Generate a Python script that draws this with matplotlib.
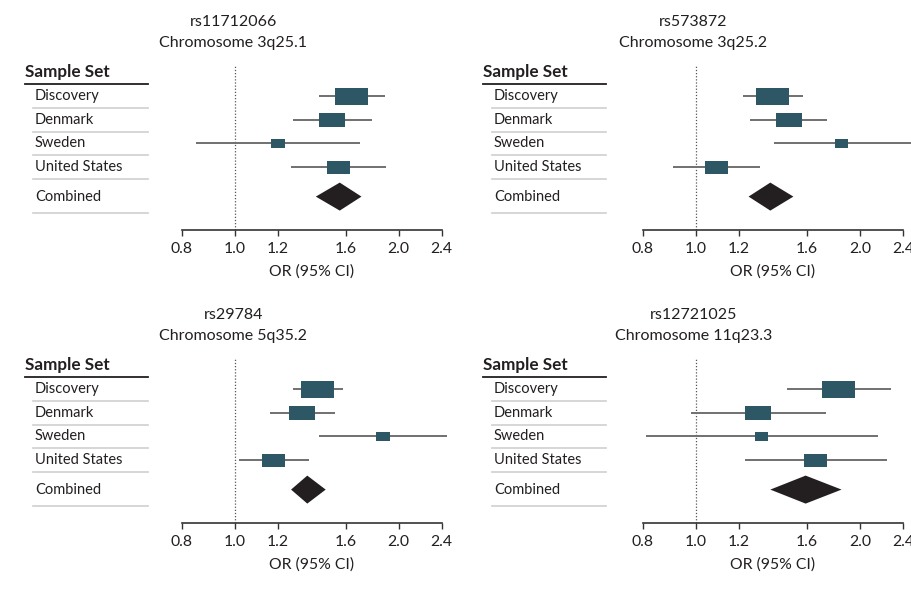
import numpy as np
import matplotlib
matplotlib.use("Agg")
import matplotlib.pyplot as plt
import matplotlib.transforms as mtransforms

plt.rcParams['font.family'] = ['Lato', 'DejaVu Sans']

# data
sample_sets = ["Discovery", "Denmark", "Sweden", "United States"]
weights = [1.0, 0.79, 0.42, 0.70]  # relative study weight (box size)
snps = ["rs11712066", "rs573872", "rs29784", "rs12721025"]
loci = ["Chromosome 3q25.1", "Chromosome 3q25.2", "Chromosome 5q35.2", "Chromosome 11q23.3"]

or_vals = [[1.64, 1.51, 1.20, 1.55],
           [1.38, 1.48, 1.85, 1.09],
           [1.42, 1.33, 1.87, 1.18],
           [1.83, 1.30, 1.32, 1.66]]
ci_low = [[1.43, 1.28, 0.85, 1.27],
          [1.22, 1.26, 1.39, 0.91],
          [1.28, 1.16, 1.43, 1.02],
          [1.47, 0.98, 0.81, 1.23]]
ci_high = [[1.89, 1.79, 1.70, 1.90],
           [1.57, 1.74, 2.55, 1.31],
           [1.58, 1.53, 2.45, 1.37],
           [2.28, 1.73, 2.16, 2.24]]
comb_or = [1.56, 1.37, 1.36, 1.59]
comb_low = [1.41, 1.25, 1.27, 1.37]
comb_high = [1.71, 1.51, 1.47, 1.85]

xticks = [0.8, 1.0, 1.2, 1.6, 2.0, 2.4]

W, H = 911, 592
BOX_C = '#2d5764'
LINE_C = '#707070'
DIAM_C = '#231f20'
SEP_C = '#cfcfcf'
DARK = '#231f20'

fig = plt.figure(figsize=(W / 100, H / 100), dpi=100)

# panel layout in pixels: (axes left, axes right, row0 y, header x, label x, sep left, sep right)
panels = [(181.7, 441.7, 96, 25, 35, 33, 148),
          (642.7, 903.3, 96, 483, 494, 492, 606),
          (181.7, 441.7, 389, 25, 35, 33, 148),
          (642.7, 903.3, 389, 483, 494, 492, 606)]

pitch = 23.67
y_top, y_bot = -1.31, 5.66
comb_y = 4.25
rows = np.arange(len(sample_sets))

for i, (xl, xr, y0, hx, lx, sx0, sx1) in enumerate(panels):
    top_px = y0 + y_top * pitch
    bot_px = y0 + y_bot * pitch
    ax = fig.add_axes([xl / W, 1 - bot_px / H, (xr - xl) / W, (bot_px - top_px) / H])
    ax.set_xscale('log')
    ax.set_xlim(0.8, 2.4)
    ax.set_ylim(y_bot, y_top)
    k = (xr - xl) / np.log(2.4 / 0.8)  # pixels per ln unit

    # reference line at OR = 1
    ax.axvline(1.0, color='#555555', lw=0.9, ls=(0, (1, 1.5)), zorder=1)

    for r in rows:
        ax.plot([ci_low[i][r], ci_high[i][r]], [r, r], color=LINE_C, lw=1.4,
                clip_on=False, zorder=2, solid_capstyle='butt')
        hw = 33 * weights[r] / 2 / k
        bh = 17 * weights[r] ** 0.75 / pitch
        o = or_vals[i][r]
        ax.barh(r, o * np.exp(hw) - o * np.exp(-hw), left=o * np.exp(-hw),
                height=bh, color=BOX_C, zorder=3)

    dh = 14 / pitch
    ax.fill([comb_low[i], comb_or[i], comb_high[i], comb_or[i]],
            [comb_y, comb_y - dh, comb_y, comb_y + dh], color=DIAM_C, lw=0, zorder=3)

    for s in ['top', 'right', 'left']:
        ax.spines[s].set_visible(False)
    ax.spines['bottom'].set_color('#333333')
    ax.spines['bottom'].set_linewidth(1.2)
    ax.set_yticks([])
    ax.set_xticks(xticks)
    ax.set_xticklabels([f'{t:.1f}' for t in xticks])
    ax.xaxis.set_minor_locator(matplotlib.ticker.NullLocator())
    ax.tick_params(axis='x', direction='out', length=4, width=1, color='#333333',
                   labelsize=11.3, labelcolor=DARK, pad=4.5)
    ax.set_xlabel('OR (95% CI)', fontsize=11.3, color=DARK, labelpad=6)

    # left-hand label table
    tr = mtransforms.blended_transform_factory(fig.transFigure, ax.transData)
    ax.text(hx / W, -1.03, 'Sample Set', transform=tr, fontsize=12.3, fontweight='bold',
            color=DARK, va='center', ha='left')
    ax.plot([hx / W, sx1 / W], [-0.51, -0.51], transform=tr, color=DARK, lw=1.3, clip_on=False)
    for r in rows:
        ax.text(lx / W, r, sample_sets[r], transform=tr, fontsize=10.5, color=DARK,
                va='center', ha='left')
        ax.plot([sx0 / W, sx1 / W], [r + 0.51, r + 0.51], transform=tr, color=SEP_C,
                lw=1.2, clip_on=False)
    ax.text(lx / W, comb_y, 'Combined', transform=tr, fontsize=10.5, color=DARK,
            va='center', ha='left')
    ax.plot([sx0 / W, sx1 / W], [4.96, 4.96], transform=tr, color=SEP_C, lw=1.2, clip_on=False)

    # title
    cx = (hx + xr) / 2 / W
    ax.text(cx, -3.12, snps[i], transform=tr, fontsize=11.5, color=DARK, ha='center', va='center')
    ax.text(cx, -2.22, loci[i], transform=tr, fontsize=11.5, color=DARK, ha='center', va='center')

fig.savefig('out.png', dpi=100)
